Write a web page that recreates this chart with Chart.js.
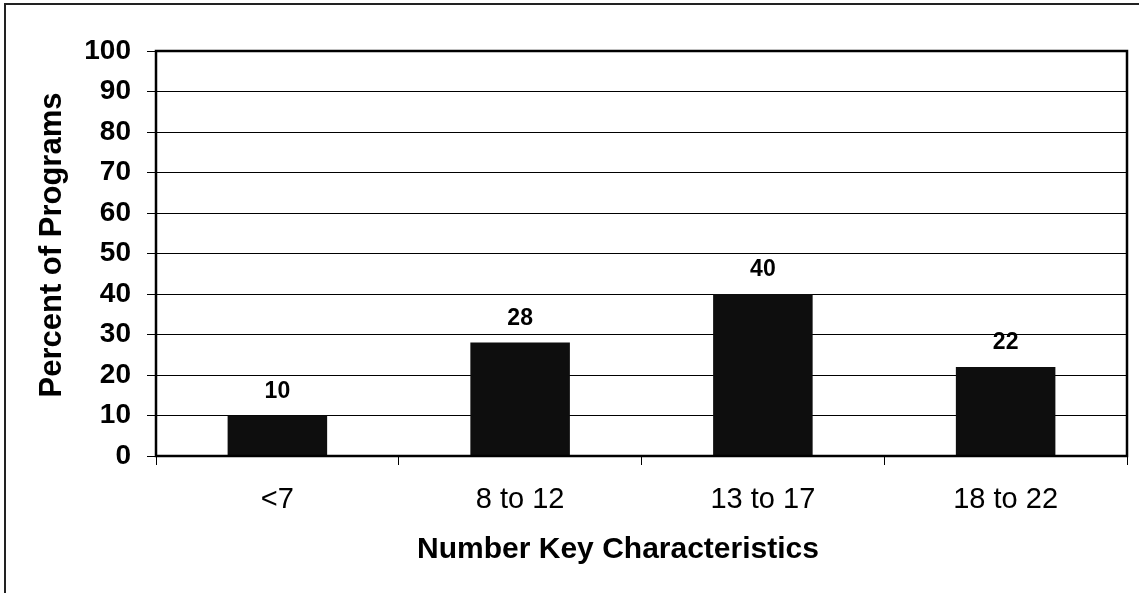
<!DOCTYPE html>
<html>
<head>
<meta charset="utf-8">
<script src="https://cdn.jsdelivr.net/npm/chart.js@4/dist/chart.umd.min.js"></script>
<style>
  html, body { margin: 0; padding: 0; background: #fff; }
  #wrap { position: relative; width: 1139px; height: 593px; }
</style>
</head>
<body>
<div id="wrap"><canvas id="chart" width="1139" height="593"></canvas></div>
<script>
const categories = ['<7', '8 to 12', '13 to 17', '18 to 22'];
const percentPrograms = [10, 28, 40, 22];
const yTicks = [0, 10, 20, 30, 40, 50, 60, 70, 80, 90, 100];
const xTitle = 'Number Key Characteristics';
const yTitle = 'Percent of Programs';

const FONT = "'Liberation Sans', Arial, Helvetica, sans-serif";

// value labels above each bar
const barLabels = {
  id: 'barLabels',
  afterDatasetsDraw(chart) {
    const ctx = chart.ctx;
    const meta = chart.getDatasetMeta(0);
    ctx.save();
    ctx.font = `bold 23px ${FONT}`;
    ctx.fillStyle = '#000';
    ctx.textAlign = 'center';
    ctx.textBaseline = 'alphabetic';
    meta.data.forEach((bar, i) => {
      ctx.fillText(String(percentPrograms[i]), bar.x, bar.y - 18);
    });
    ctx.restore();
  },
};

// plot box, page frame and axis titles (the original sits a bit off-centre)
const frame = {
  id: 'frame',
  afterDraw(chart) {
    const { ctx, chartArea: a } = chart;
    ctx.save();
    ctx.strokeStyle = '#000';
    ctx.lineWidth = 2.5;
    ctx.strokeRect(a.left, a.top, a.right - a.left, a.bottom - a.top);
    ctx.lineWidth = 2;
    ctx.strokeStyle = '#222';
    ctx.beginPath();
    ctx.moveTo(5, 593);
    ctx.lineTo(5, 4);
    ctx.lineTo(1139, 4);
    ctx.stroke();

    ctx.fillStyle = '#000';
    ctx.textAlign = 'center';
    ctx.textBaseline = 'middle';
    ctx.font = `bold 30px ${FONT}`;
    ctx.fillText(xTitle, 618, 550);
    ctx.translate(52, 245);
    ctx.rotate(-Math.PI / 2);
    ctx.font = `bold 31px ${FONT}`;
    ctx.fillText(yTitle, 0, 0);
    ctx.restore();
  },
};

new Chart(document.getElementById('chart'), {
  type: 'bar',
  data: {
    labels: categories,
    datasets: [{
      data: percentPrograms,
      backgroundColor: '#0e0e0e',
      borderWidth: 0,
      barPercentage: 0.82,
      categoryPercentage: 0.5,
    }],
  },
  options: {
    responsive: false,
    animation: false,
    devicePixelRatio: 1,
    layout: { padding: { left: 0, top: 51, right: 12, bottom: 0 } },
    plugins: { legend: { display: false }, tooltip: { enabled: false } },
    scales: {
      x: {
        afterFit(scale) { scale.height = 137; },
        grid: { display: true, drawOnChartArea: false, drawTicks: true, tickLength: 9, offset: true, color: '#000', lineWidth: 1 },
        border: { display: true, color: '#000', width: 2 },
        ticks: { color: '#000', font: { family: FONT, size: 29 }, padding: 18, maxRotation: 0 },
      },
      y: {
        min: 0,
        max: 100,
        afterFit(scale) { scale.width = 156; },
        afterBuildTicks(scale) { scale.ticks = yTicks.map((v) => ({ value: v })); },
        grid: { color: '#000', lineWidth: 1, drawTicks: true, tickLength: 9 },
        border: { display: true, color: '#000', width: 2 },
        ticks: { color: '#000', font: { family: FONT, size: 28, weight: 'bold' }, padding: 16 },
      },
    },
  },
  plugins: [barLabels, frame],
});
</script>
</body>
</html>
